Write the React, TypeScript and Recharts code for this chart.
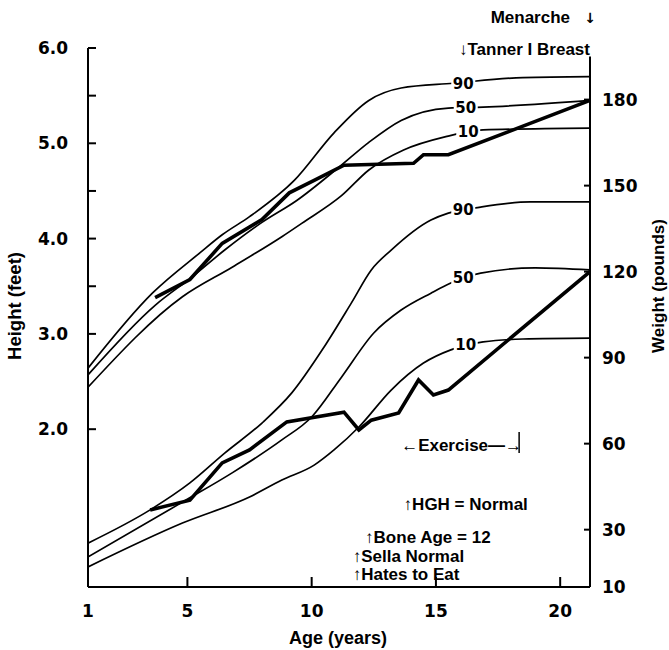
import React from "react";
import { ComposedChart, Line, XAxis, YAxis, ReferenceDot, ReferenceLine, Label } from "recharts";

const TEXT_FONT = "'Liberation Sans', Arial, sans-serif";
const NUM_FONT = "'DejaVu Sans', sans-serif";

// [age in years, height in feet]
const height90: [number, number][] = [
  [1, 2.64], [3.6, 3.43], [5.5, 3.85], [6.4, 4.04], [7.5, 4.23], [9.3, 4.61],
  [10.9, 5.11], [12.3, 5.45], [13.6, 5.58], [15.7, 5.63], [18.5, 5.69], [21.2, 5.7],
];
const height50: [number, number][] = [
  [1, 2.57], [3.7, 3.3], [5.2, 3.6], [6.5, 3.88], [8, 4.17], [9.4, 4.4],
  [11.1, 4.75], [12.3, 5.01], [13.6, 5.24], [15.5, 5.37], [16.9, 5.38], [21.2, 5.45],
];
const height10: [number, number][] = [
  [1, 2.44], [4.8, 3.39], [6.8, 3.7], [8.8, 4.02], [9.6, 4.16], [11.2, 4.45],
  [12.3, 4.72], [13.7, 4.93], [15.4, 5.07], [16.9, 5.14], [21.2, 5.16],
];
const patientHeight: [number, number][] = [
  [3.7, 3.38], [5.1, 3.57], [6.4, 3.95], [8, 4.2], [9.1, 4.48], [10.1, 4.61], [11.3, 4.77],
  [14.1, 4.79], [14.5, 4.88], [15.5, 4.88], [21.2, 5.45],
];

// [age in years, weight in pounds]
const weight90: [number, number][] = [
  [1, 25.3], [3.5, 36.9], [5.1, 46.3], [6.5, 56.7], [8, 67.2], [9.2, 77.7], [10.5, 93.7],
  [11.6, 109.1], [12.4, 120.6], [13.2, 127.5], [14.8, 138], [15.5, 140.4], [16.8, 142.5],
  [18.8, 144.3], [21.2, 144.3],
];
const weight50: [number, number][] = [
  [1, 20.5], [4.8, 39.6], [6.8, 49.8], [8.8, 61.3], [10, 69.3], [11.2, 83.2], [12.5, 98.6],
  [13.6, 106.6], [14.8, 112.5], [15.6, 116], [16.8, 119.5], [19, 121.3], [21.2, 120.6],
];
const weight10: [number, number][] = [
  [1, 17], [4.8, 32.3], [7.5, 41.4], [8.8, 47.3], [10.1, 52.5], [10.9, 57.8], [11.9, 65.8],
  [13.2, 78.7], [14.5, 88.1], [15.6, 92.7], [16.9, 95.5], [18.5, 96.5], [21.2, 96.8],
];
const patientWeight: [number, number][] = [
  [3.5, 36.9], [5.1, 40.3], [6.4, 53.3], [7.5, 57.8], [9, 67.6], [11.3, 71], [11.9, 64.8],
  [12.4, 68.2], [13.5, 70.7], [14.3, 82.2], [14.9, 77], [15.5, 78.7], [21.2, 120],
];

const ageTicks = [1, 5, 10, 15, 20];
const heightTicks = [2, 3, 3.5, 4, 4.5, 5, 5.5, 6];
const heightLabels = ["2.0", "3.0", "", "4.0", "", "5.0", "", "6.0"];
const weightTicks = [10, 30, 60, 90, 120, 150, 180];

const percentiles = ["90", "50", "10"];
const heightLabelAt: [number, number][] = [[16.1, 5.63], [16.2, 5.37], [16.3, 5.12]];
const weightLabelAt: [number, number][] = [[16.1, 141.6], [16.1, 117.8], [16.2, 94.4]];

const notes = ["↑HGH = Normal", "↑Bone Age = 12", "↑Sella Normal", "↑Hates to Eat"];
const noteAt: [number, number][] = [[13.7, 1.15], [12.15, 0.81], [11.65, 0.61], [11.65, 0.42]];

const rows = (pts: [number, number][]) => pts.map(([age, v]) => ({ age, v }));

const LeftTick = (props: any) => {
  const { x, y, payload } = props;
  return (
    <g>
      <line x1={x} x2={x + 8} y1={y} y2={y} stroke="#000" strokeWidth={2} />
      <text x={x - 20} y={y} dy="0.36em" textAnchor="end" fontFamily={NUM_FONT} fontWeight="bold" fontSize={17} fill="#000">
        {heightLabels[heightTicks.indexOf(payload.value)] ?? ""}
      </text>
    </g>
  );
};

const RightTick = (props: any) => {
  const { x, y, payload } = props;
  return (
    <g>
      <line x1={x - 6} x2={x} y1={y} y2={y} stroke="#000" strokeWidth={2} />
      <text x={x + 12} y={y} dy="0.36em" textAnchor="start" fontFamily={NUM_FONT} fontWeight="bold" fontSize={17} fill="#000">
        {payload.value}
      </text>
    </g>
  );
};

const BottomTick = (props: any) => {
  const { x, y, payload } = props;
  return (
    <g>
      {payload.value !== 1 && <line x1={x} x2={x} y1={y} y2={y - 10} stroke="#000" strokeWidth={2} />}
      <text x={x} y={y + 30} textAnchor="middle" fontFamily={NUM_FONT} fontWeight="bold" fontSize={17} fill="#000">
        {payload.value}
      </text>
    </g>
  );
};

const pctShape = (label: string) => (p: any) => (
  <g>
    <rect x={p.cx - 12} y={p.cy - 8} width={24} height={16} fill="#fff" />
    <text x={p.cx} y={p.cy} dy="0.36em" textAnchor="middle" fontFamily={NUM_FONT} fontWeight="bold" fontSize={15} fill="#000">
      {label}
    </text>
  </g>
);

const noteShape = (label: string, anchor: "start" | "end" = "start") => (p: any) => (
  <text x={p.cx} y={p.cy} textAnchor={anchor} fontFamily={TEXT_FONT} fontWeight="bold" fontSize={17} fill="#000">
    {label}
  </text>
);

const menarcheShape = (p: any) => (
  <g>
    <text x={p.cx - 20} y={p.cy} textAnchor="end" fontFamily={TEXT_FONT} fontWeight="bold" fontSize={17} fill="#000">
      Menarche
    </text>
    <text x={p.cx} y={p.cy} textAnchor="middle" fontFamily={NUM_FONT} fontWeight="bold" fontSize={14} fill="#000">
      {"\u2193"}
    </text>
  </g>
);

const exerciseShape = (p: any) => (
  <g>
    <text x={p.cx} y={p.cy} fontFamily={TEXT_FONT} fontWeight="bold" fontSize={17} fill="#000">
      ←Exercise—→
    </text>
    <line x1={p.cx + 118} x2={p.cx + 118} y1={p.cy - 19} y2={p.cy + 2} stroke="#000" strokeWidth={1.5} />
  </g>
);

const titleStyle = { fontFamily: TEXT_FONT, fontWeight: "bold" as const, fill: "#000" };

export default function App() {
  const thin = { stroke: "#000", strokeWidth: 1.7, dot: false, isAnimationActive: false, type: "monotone" as const };
  const thick = { stroke: "#000", strokeWidth: 3.6, dot: false, isAnimationActive: false, type: "linear" as const };
  return (
    <div style={{ position: "absolute", left: 0, top: 0, width: 669, height: 650, background: "#fff" }}>
      <ComposedChart width={669} height={650} margin={{ top: 48, right: 0, bottom: 0, left: 0 }}>
        <XAxis
          dataKey="age"
          type="number"
          domain={[1, 21.2]}
          ticks={ageTicks}
          allowDataOverflow
          height={63}
          tickSize={0}
          tickMargin={0}
          tickLine={false}
          tick={<BottomTick />}
          axisLine={{ stroke: "#000", strokeWidth: 2 }}
        >
          <Label content={() => <text x={338} y={644} textAnchor="middle" fontSize={18} {...titleStyle}>Age (years)</text>} />
        </XAxis>
        <YAxis
          yAxisId="h"
          orientation="left"
          type="number"
          domain={[0.344, 6]}
          ticks={heightTicks}
          allowDataOverflow
          width={88}
          tickSize={0}
          tickMargin={0}
          tickLine={false}
          tick={<LeftTick />}
          axisLine={{ stroke: "#000", strokeWidth: 2 }}
        >
          <Label content={() => <text x={21} y={306} textAnchor="middle" transform="rotate(-90 21 306)" fontSize={18.5} {...titleStyle}>Height (feet)</text>} />
        </YAxis>
        <YAxis
          yAxisId="w"
          orientation="right"
          type="number"
          domain={[10, 198]}
          ticks={weightTicks}
          allowDataOverflow
          width={79}
          tickSize={0}
          tickMargin={0}
          tickLine={false}
          tick={<RightTick />}
          axisLine={false}
        >
          <Label content={() => <text x={664} y={286} textAnchor="middle" transform="rotate(-90 664 286)" fontSize={17} {...titleStyle}>Weight (pounds)</text>} />
        </YAxis>
        <ReferenceLine
          yAxisId="w"
          segment={[{ x: 21.2, y: 195 }, { x: 21.2, y: 10 }]}
          stroke="#000"
          strokeWidth={2}
          ifOverflow="visible"
        />

        <Line yAxisId="h" data={rows(height90)} dataKey="v" {...thin} />
        <Line yAxisId="h" data={rows(height50)} dataKey="v" {...thin} />
        <Line yAxisId="h" data={rows(height10)} dataKey="v" {...thin} />
        <Line yAxisId="h" data={rows(patientHeight)} dataKey="v" {...thick} />
        <Line yAxisId="w" data={rows(weight90)} dataKey="v" {...thin} />
        <Line yAxisId="w" data={rows(weight50)} dataKey="v" {...thin} />
        <Line yAxisId="w" data={rows(weight10)} dataKey="v" {...thin} />
        <Line yAxisId="w" data={rows(patientWeight)} dataKey="v" {...thick} />

        {percentiles.map((p, i) => (
          <ReferenceDot key={"h" + p} yAxisId="h" x={heightLabelAt[i][0]} y={heightLabelAt[i][1]} r={0} ifOverflow="visible" shape={pctShape(p)} />
        ))}
        {percentiles.map((p, i) => (
          <ReferenceDot key={"w" + p} yAxisId="w" x={weightLabelAt[i][0]} y={weightLabelAt[i][1]} r={0} ifOverflow="visible" shape={pctShape(p)} />
        ))}

        <ReferenceDot yAxisId="h" x={21.2} y={6.26} r={0} ifOverflow="visible" shape={menarcheShape} />
        <ReferenceDot yAxisId="h" x={21.2} y={5.93} r={0} ifOverflow="visible" shape={noteShape("↓Tanner I Breast", "end")} />
        <ReferenceDot yAxisId="h" x={13.6} y={1.77} r={0} ifOverflow="visible" shape={exerciseShape} />
        {notes.map((n, i) => (
          <ReferenceDot key={n} yAxisId="h" x={noteAt[i][0]} y={noteAt[i][1]} r={0} ifOverflow="visible" shape={noteShape(n)} />
        ))}
      </ComposedChart>
    </div>
  );
}
